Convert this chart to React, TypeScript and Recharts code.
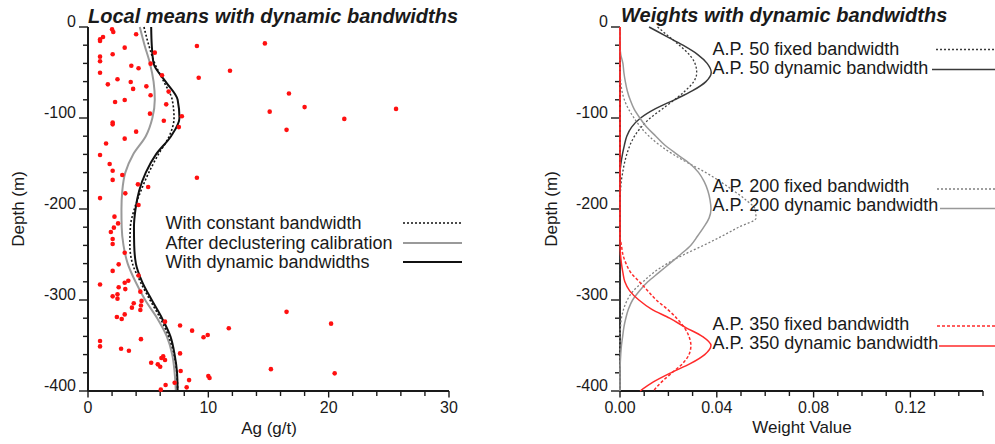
import { ComposedChart, Line, Scatter, XAxis, YAxis } from "recharts";

const FONT = "'Liberation Sans', Arial, Helvetica, sans-serif";
const INK = "#1a1a1a";

// axis ticks (majors get labels)
const depthTicks = [0, -20, -40, -60, -80, -100, -120, -140, -160, -180, -200, -220, -240, -260, -280, -300, -320, -340, -360, -380, -400];
const agTicks = [0, 2, 4, 6, 8, 10, 12, 14, 16, 18, 20, 22, 24, 26, 28, 30];
const weightTicks = [0, 0.01, 0.02, 0.03, 0.04, 0.05, 0.06, 0.07, 0.08, 0.09, 0.1, 0.11, 0.12, 0.13, 0.14, 0.15];

// local mean of Ag along depth (g/t)
const meanDepth = [0, -20, -40, -60, -80, -100, -120, -140, -160, -180, -200, -220, -240, -260, -280, -300, -320, -340, -360, -380, -400];
const constantBw = [4.65, 5.05, 5.55, 6.3, 7.0, 7.15, 6.75, 5.85, 5.05, 4.4, 3.85, 3.52, 3.48, 3.7, 4.35, 5.15, 6.0, 6.7, 7.15, 7.38, 7.45];
const declustered = [4.3, 4.7, 5.15, 5.45, 5.55, 5.35, 4.8, 3.75, 3.1, 2.85, 2.78, 2.8, 2.95, 3.3, 3.95, 4.75, 5.75, 6.55, 7.0, 7.2, 7.3];
const dynamicBw = [5.25, 5.3, 5.45, 6.45, 7.45, 7.6, 6.9, 5.65, 4.8, 4.25, 3.95, 3.82, 3.84, 3.98, 4.5, 5.3, 6.15, 6.85, 7.2, 7.4, 7.45];

// drill-hole samples: [Ag g/t, depth m]
const samples: [number, number][] = [
  [2.0, -2.6], [2.1, -5.5], [1.25, -11], [1.0, -13.6], [1.0, -15.4], [4.0, -8], [9.05, -20.9], [14.7, -18],
  [3.05, -22.7], [1.0, -32.6], [2.05, -30], [1.0, -37.7], [5.55, -28.2], [3.6, -42.5], [4.2, -45.4], [5.2, -40.3],
  [1.0, -50.2], [6.15, -53], [11.8, -48], [9.2, -55.7], [2.45, -57.5], [1.65, -63], [3.55, -60.4], [4.85, -65.2],
  [3.75, -68], [6.7, -71], [5.2, -75], [16.7, -73], [3.05, -80.2], [2.25, -82.4], [6.5, -85], [18.0, -88],
  [25.6, -90], [15.1, -93], [5.15, -95.2], [7.8, -98], [21.3, -101], [6.3, -103], [2.05, -105], [2.05, -107],
  [7.55, -110], [16.5, -113], [4.0, -115], [3.05, -122.7], [1.5, -128],
  [1.0, -140.6], [1.8, -150.5], [2.05, -158], [2.05, -168], [2.85, -162.6], [9.05, -165.6], [4.15, -172.9],
  [5.0, -175.8], [3.1, -182.8], [1.0, -188], [4.2, -195.6], [2.2, -208.4], [2.5, -215.8], [2.15, -220.5],
  [1.9, -225.3], [2.05, -233], [2.05, -238.5], [3.05, -248], [2.55, -260.8],
  [2.05, -268], [1.0, -283], [2.55, -286], [3.05, -281], [3.35, -278.8], [3.1, -288], [4.2, -273], [2.05, -296],
  [2.45, -298.5], [2.45, -293.7], [4.35, -290.8], [3.8, -303.6], [4.45, -301], [4.4, -306], [3.65, -308.4],
  [4.35, -311], [3.05, -315.8], [2.4, -318.7], [2.8, -320.9], [6.4, -323.8], [7.65, -328], [8.65, -333.7],
  [9.6, -341], [1.0, -345], [1.0, -351], [4.4, -343], [2.75, -353.5], [3.4, -355.7], [7.65, -358.7], [6.25, -362],
  [6.1, -363.7], [6.4, -366], [5.25, -368.9], [5.8, -370.7], [6.0, -373.3], [7.7, -378], [8.4, -388], [6.45, -393.4],
  [7.2, -391], [8.2, -396], [6.05, -398.5], [16.5, -313], [20.2, -326], [11.7, -331], [9.95, -338.5], [15.2, -376],
  [20.5, -380.6], [10.0, -383.5], [10.1, -385.7],
];

// kernel weights of three anchor points (A.P.) along depth
const weightDepth = [0, -10, -20, -30, -40, -50, -60, -70, -80, -90, -100, -110, -120, -130, -140, -150, -160, -170, -180, -190, -200, -210, -220, -230, -240, -250, -260, -270, -280, -290, -300, -310, -320, -330, -340, -350, -360, -370, -380, -390, -400];
const ap50Fixed = [0.0155, 0.02, 0.0245, 0.0285, 0.031, 0.0317, 0.0305, 0.027, 0.0225, 0.0175, 0.0125, 0.0088, 0.006, 0.0041, 0.0028, 0.0018, 0.0011, 0.0005, 0.0002, 0, 0, 0, 0, 0, 0, 0, 0, 0, 0, 0, 0, 0, 0, 0, 0, 0, 0, 0, 0, 0, 0];
const ap50Dynamic = [0.012, 0.019, 0.026, 0.032, 0.036, 0.0377, 0.0355, 0.03, 0.0225, 0.0145, 0.0085, 0.0048, 0.0028, 0.0018, 0.001, 0.0004, 0, 0, 0, 0, 0, 0, 0, 0, 0, 0, 0, 0, 0, 0, 0, 0, 0, 0, 0, 0, 0, 0, 0, 0, 0];
const ap200Fixed = [0, 0, 0, 0, 0, 0, 0.0003, 0.0008, 0.0018, 0.0035, 0.0058, 0.0085, 0.012, 0.0165, 0.022, 0.0285, 0.0355, 0.0415, 0.047, 0.052, 0.0558, 0.0562, 0.049, 0.042, 0.0345, 0.0265, 0.0195, 0.0138, 0.0095, 0.0055, 0.003, 0.0015, 0.0006, 0.0002, 0, 0, 0, 0, 0, 0, 0];
const ap200Dynamic = [0, 0, 0, 0.0003, 0.0012, 0.0016, 0.0022, 0.003, 0.0042, 0.0058, 0.0082, 0.011, 0.0148, 0.0186, 0.0236, 0.0288, 0.0325, 0.0348, 0.0363, 0.0372, 0.0376, 0.0368, 0.0346, 0.032, 0.0292, 0.025, 0.0205, 0.016, 0.0115, 0.008, 0.0052, 0.0035, 0.0024, 0.0016, 0.0011, 0.0006, 0.0003, 0.0001, 0, 0, 0];
const ap350Fixed = [0, 0, 0, 0, 0, 0, 0, 0, 0, 0, 0, 0, 0, 0, 0, 0, 0, 0, 0, 0, 0, 0, 0, 0, 0.0006, 0.0012, 0.0025, 0.0045, 0.008, 0.0115, 0.015, 0.0195, 0.0234, 0.0265, 0.0285, 0.0293, 0.0285, 0.0258, 0.0215, 0.0172, 0.0138];
const ap350Dynamic = [0, 0, 0, 0, 0, 0, 0, 0, 0, 0, 0, 0, 0, 0, 0, 0, 0, 0, 0, 0, 0, 0, 0, 0, 0, 0.0002, 0.0006, 0.0012, 0.002, 0.004, 0.0078, 0.013, 0.0205, 0.027, 0.034, 0.0376, 0.035, 0.029, 0.021, 0.0138, 0.0083];

const meanRows = meanDepth.map((depth, i) => ({
  depth,
  constant: constantBw[i],
  declustered: declustered[i],
  dynamic: dynamicBw[i],
}));
const sampleRows = samples.map(([ag, depth]) => ({ ag, depth }));
const weightRows = weightDepth.map((depth, i) => ({
  depth,
  f50: ap50Fixed[i],
  d50: ap50Dynamic[i],
  f200: ap200Fixed[i],
  d200: ap200Dynamic[i],
  f350: ap350Fixed[i],
  d350: ap350Dynamic[i],
}));

const TICK = 5; // minor tick length, drawn by recharts

// x, y arrive at the outer end of the minor tick
function DepthTick({ x, y, payload }: any) {
  const major = payload.value % 100 === 0;
  if (!major) return null;
  const px = Number(x);
  const py = Number(y);
  return (
    <g>
      <line x1={px - 4} x2={px} y1={py} y2={py} stroke={INK} strokeWidth={1.4} />
      <text x={px - 7} y={py} textAnchor="end" fontSize={16} fontFamily={FONT} fill={INK}>
        {payload.value}
      </text>
    </g>
  );
}

function BottomTick({ x, y, payload, major, label }: any) {
  if (!major(payload.value)) return null;
  const px = Number(x);
  const py = Number(y);
  return (
    <g>
      <line x1={px} x2={px} y1={py} y2={py + 1.5} stroke={INK} strokeWidth={1.4} />
      <text x={px} y={py + 17} textAnchor="middle" fontSize={16} fontFamily={FONT} fill={INK}>
        {label(payload.value)}
      </text>
    </g>
  );
}

const dot = (props: any) => <circle cx={props.cx} cy={props.cy} r={2.3} fill="#ff1010" />;

const axisLine = { stroke: INK, strokeWidth: 2 };
const tickLine = { stroke: INK, strokeWidth: 1.4 };

function DepthAxis() {
  return (
    <YAxis
      type="number"
      dataKey="depth"
      domain={[-400, 0]}
      reversed
      ticks={depthTicks}
      interval={0}
      width={88}
      tickSize={TICK}
      tickMargin={0}
      tickLine={tickLine}
      axisLine={axisLine}
      tick={<DepthTick />}
    />
  );
}

function LocalMeans() {
  return (
    <ComposedChart
      layout="vertical"
      width={470}
      height={444}
      data={meanRows}
      margin={{ top: 27, right: 21, bottom: 0, left: 0 }}
    >
      <XAxis
        type="number"
        domain={[0, 30]}
        ticks={agTicks}
        interval={0}
        height={53}
        tickSize={TICK}
        tickMargin={0}
        tickLine={tickLine}
        axisLine={axisLine}
        tick={<BottomTick major={(v: number) => v % 10 === 0} label={(v: number) => String(v)} />}
      />
      {DepthAxis()}
      <Line type="monotone" dataKey="declustered" stroke="#9a9a9a" strokeWidth={2} dot={false} isAnimationActive={false} />
      <Line type="monotone" dataKey="constant" stroke="#111" strokeWidth={1.6} strokeDasharray="2 2" dot={false} isAnimationActive={false} />
      <Line type="monotone" dataKey="dynamic" stroke="#111" strokeWidth={2} dot={false} isAnimationActive={false} />
      <Scatter data={sampleRows} dataKey="ag" shape={dot} isAnimationActive={false} />
    </ComposedChart>
  );
}

// weight curves sit on top of the depth axis where they drop to zero
const overAxis = { zIndex: 600 } as any;

function Weights() {
  return (
    <ComposedChart
      layout="vertical"
      width={463}
      height={444}
      data={weightRows}
      margin={{ top: 27, right: 12, bottom: 0, left: 0 }}
    >
      <XAxis
        type="number"
        domain={[0, 0.15]}
        ticks={weightTicks}
        interval={0}
        height={53}
        tickSize={TICK}
        tickMargin={0}
        tickLine={tickLine}
        axisLine={axisLine}
        tick={
          <BottomTick
            major={(v: number) => Math.round(v * 100) % 4 === 0}
            label={(v: number) => v.toFixed(2)}
          />
        }
      />
      {DepthAxis()}
      <Line {...overAxis} type="monotone" dataKey="f50" stroke="#3a3a3a" strokeWidth={1.3} strokeDasharray="2 2" dot={false} isAnimationActive={false} />
      <Line {...overAxis} type="monotone" dataKey="d50" stroke="#3a3a3a" strokeWidth={1.5} dot={false} isAnimationActive={false} />
      <Line {...overAxis} type="monotone" dataKey="f200" stroke="#808080" strokeWidth={1.3} strokeDasharray="2 2" dot={false} isAnimationActive={false} />
      <Line {...overAxis} type="monotone" dataKey="d200" stroke="#999" strokeWidth={1.5} dot={false} isAnimationActive={false} />
      <Line {...overAxis} type="monotone" dataKey="f350" stroke="#ff2a2a" strokeWidth={1.5} strokeDasharray="3 2" dot={false} isAnimationActive={false} />
      <Line {...overAxis} type="monotone" dataKey="d350" stroke="#ff2a2a" strokeWidth={1.5} dot={false} isAnimationActive={false} />
    </ComposedChart>
  );
}

const leftLegend = [
  { label: "With constant bandwidth", y: 229, ly: 223, stroke: "#111", dash: "2 2", w: 1.6 },
  { label: "After declustering calibration", y: 249, ly: 243, stroke: "#9a9a9a", dash: undefined, w: 2 },
  { label: "With dynamic bandwidths", y: 268, ly: 262, stroke: "#111", dash: undefined, w: 2 },
];

const rightLegend = [
  { label: "A.P. 50 fixed bandwidth", y: 55, ly: 49.5, lx: 936, stroke: "#3a3a3a", dash: "2 2" },
  { label: "A.P. 50 dynamic bandwidth", y: 74, ly: 69.5, lx: 932, stroke: "#3a3a3a", dash: undefined },
  { label: "A.P. 200 fixed bandwidth", y: 192, ly: 189, lx: 937, stroke: "#808080", dash: "2 2" },
  { label: "A.P. 200 dynamic bandwidth", y: 211, ly: 208.5, lx: 940, stroke: "#999", dash: undefined },
  { label: "A.P. 350 fixed bandwidth", y: 329.5, ly: 326, lx: 937, stroke: "#ff2a2a", dash: "3 2" },
  { label: "A.P. 350 dynamic bandwidth", y: 348.5, ly: 346, lx: 939, stroke: "#ff2a2a", dash: undefined },
];

export default function App() {
  return (
    <div style={{ position: "absolute", left: 0, top: 0, width: 995, height: 444, background: "#fff", overflow: "hidden" }}>
      <div style={{ position: "absolute", left: 0, top: 0 }}>
        <LocalMeans />
      </div>
      <div style={{ position: "absolute", left: 532, top: 0 }}>
        <Weights />
      </div>
      <svg
        width={995}
        height={444}
        style={{ position: "absolute", left: 0, top: 0, pointerEvents: "none" }}
        fontFamily={FONT}
        fill={INK}
      >
        <text x={88} y={22.5} fontSize={20} fontWeight="bold" fontStyle="italic">
          Local means with dynamic bandwidths
        </text>
        <text x={621} y={22} fontSize={20} fontWeight="bold" fontStyle="italic">
          Weights with dynamic bandwidths
        </text>

        <text x={269} y={434} fontSize={17} textAnchor="middle">Ag (g/t)</text>
        <text x={802} y={433} fontSize={17} textAnchor="middle">Weight Value</text>
        <text transform="translate(24,209) rotate(-90)" fontSize={17} textAnchor="middle">Depth (m)</text>
        <text transform="translate(557,209) rotate(-90)" fontSize={17} textAnchor="middle">Depth (m)</text>

        {leftLegend.map((l) => (
          <g key={l.label}>
            <text x={165.5} y={l.y} fontSize={18}>{l.label}</text>
            <line x1={403} x2={462} y1={l.ly} y2={l.ly} stroke={l.stroke} strokeWidth={l.w} strokeDasharray={l.dash} />
          </g>
        ))}
        {rightLegend.map((l) => (
          <g key={l.label}>
            <text x={712.5} y={l.y} fontSize={18}>{l.label}</text>
            <line x1={l.lx} x2={995} y1={l.ly} y2={l.ly} stroke={l.stroke} strokeWidth={1.5} strokeDasharray={l.dash} />
          </g>
        ))}
      </svg>
    </div>
  );
}
